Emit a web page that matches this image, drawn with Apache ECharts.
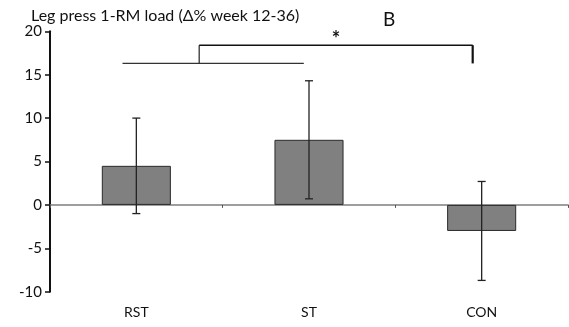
<!DOCTYPE html>
<html>
<head>
<meta charset="utf-8">
<script src="https://cdn.jsdelivr.net/npm/echarts@6/dist/echarts.min.js"></script>
<style>html,body{margin:0;padding:0;background:#fff}#c{width:569px;height:327px}</style>
</head>
<body>
<div id="c"></div>
<script>
var categories = ['RST', 'ST', 'CON'];
var means = [4.5, 7.5, -3.0];
var errLow = [-1.0, 0.7, -8.7];
var errHigh = [10.0, 14.3, 2.7];
var yTicks = [-10, -5, 0, 5, 10, 15, 20];
var titleText = 'Leg press 1-RM load (\u0394% week 12-36)';
var panelLabel = 'B';
var FONT = 'Lato';

var chart = echarts.init(document.getElementById('c'), null, {renderer: 'canvas'});
var errData = categories.map(function (c, i) { return [i, errLow[i], errHigh[i]]; });

var option = {
  animation: false,
  backgroundColor: '#fff',
  grid: {left: 50, right: 1, top: 31.3, bottom: 35.3, containLabel: false},
  xAxis: [{
    type: 'category', data: categories,
    axisLine: {onZero: true, lineStyle: {color: '#7f7f7f', width: 1.5}},
    axisTick: {show: true, length: 3, lineStyle: {color: '#555', width: 1}},
    axisLabel: {show: false}
  }, {
    type: 'category', data: categories, position: 'bottom',
    axisLine: {show: false, onZero: false}, axisTick: {show: false},
    axisLabel: {show: true, margin: 14, fontFamily: FONT, fontSize: 14, color: '#111'}
  }],
  yAxis: {
    type: 'value', min: yTicks[0], max: yTicks[yTicks.length - 1], interval: 5,
    splitLine: {show: false},
    axisLine: {show: true, lineStyle: {color: '#111', width: 2}},
    axisTick: {show: true, length: 5, lineStyle: {color: '#111', width: 1.5}},
    axisLabel: {fontFamily: FONT, fontSize: 15, color: '#111', margin: 8}
  },
  series: [{
    type: 'bar', data: means, barWidth: '40%', xAxisIndex: 0,
    itemStyle: {color: '#808080', borderColor: '#2a2a2a', borderWidth: 1}
  }, {
    type: 'custom', xAxisIndex: 0, data: errData, z: 10,
    renderItem: function (params, api) {
      var x = api.value(0);
      var lo = api.coord([x, api.value(1)]);
      var hi = api.coord([x, api.value(2)]);
      var hw = 4;
      var st = {stroke: '#222', lineWidth: 1.3};
      return {type: 'group', children: [
        {type: 'line', shape: {x1: lo[0], y1: lo[1], x2: hi[0], y2: hi[1]}, style: st},
        {type: 'line', shape: {x1: lo[0] - hw, y1: lo[1], x2: lo[0] + hw, y2: lo[1]}, style: st},
        {type: 'line', shape: {x1: hi[0] - hw, y1: hi[1], x2: hi[0] + hw, y2: hi[1]}, style: st}
      ]};
    }
  }]
};
chart.setOption(option);

// significance bracket annotation, positioned in data space
function px(f, v) {
  var a = chart.convertToPixel({xAxisIndex: 0, yAxisIndex: 0}, [0, v]);
  var b = chart.convertToPixel({xAxisIndex: 0, yAxisIndex: 0}, [1, v]);
  return [a[0] + f * (b[0] - a[0]), a[1]];
}
var L1 = px(-0.08, 16.3), L2 = px(0.97, 16.3);
var V1 = px(0.364, 18.4);
var U2 = px(1.948, 18.4), D2 = px(1.948, 16.3);
var star = px(1.156, 19.1);
chart.setOption({graphic: [
  {type: 'line', shape: {x1: L1[0], y1: L1[1], x2: L2[0], y2: L2[1]}, style: {stroke: '#333', lineWidth: 1.2}},
  {type: 'line', shape: {x1: V1[0], y1: L1[1], x2: V1[0], y2: V1[1]}, style: {stroke: '#222', lineWidth: 1.2}},
  {type: 'line', shape: {x1: V1[0], y1: V1[1], x2: U2[0], y2: U2[1]}, style: {stroke: '#111', lineWidth: 1.5}},
  {type: 'line', shape: {x1: U2[0], y1: U2[1], x2: D2[0], y2: D2[1]}, style: {stroke: '#111', lineWidth: 2.2}},
  {type: 'text', x: star[0], y: star[1], style: {text: '*', font: 'bold 20px ' + FONT, fill: '#111', align: 'center', verticalAlign: 'middle'}},
  {type: 'text', left: 31, top: 8, style: {text: titleText, font: '16px ' + FONT, fill: '#111'}},
  {type: 'text', left: 383, top: 10, style: {text: panelLabel, font: '19px ' + FONT, fill: '#111'}}
]});
</script>
</body>
</html>
